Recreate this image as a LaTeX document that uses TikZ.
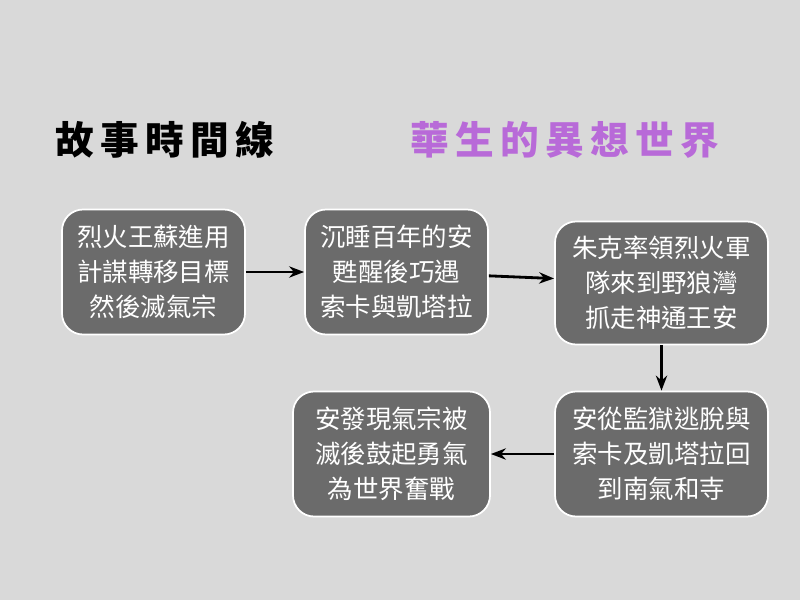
\documentclass[tikz,border=0pt]{standalone}
\usepackage{fontspec}
\setmainfont{Noto Sans CJK TC}
\usetikzlibrary{arrows.meta, positioning}
\usepackage{xcolor}
\definecolor{pagebg}{RGB}{217, 217, 217}
\definecolor{boxfill}{RGB}{107, 107, 107}
\definecolor{titlepurple}{RGB}{184, 106, 216}

\begin{document}
\begin{tikzpicture}[
    event/.style={rectangle, draw=white, line width=1pt, rounded corners=12pt, fill=boxfill, text=white, align=center, font=\fontsize{14.5}{20}\selectfont, inner sep=2pt},
    arrow/.style={-{Stealth[length=3mm]}, line width=1.6pt, color=black},
    heading/.style={font=\fontsize{22}{26}\selectfont\bfseries}
]
\fill[pagebg] (0,0) rectangle (16,12);
\useasboundingbox (0,0) rectangle (16,12);

% Titles
\node[heading] (timeline) at (3.3, 9.2) {故\,事\,時\,間\,線};
\node[heading, text=titlepurple] (world) at (11.3, 9.2) {華\,生\,的\,異\,想\,世\,界};

% Events
\node[event, minimum width=3.66cm, minimum height=2.5cm] (e1) at (3.07, 6.56) {烈火王蘇進用\\計謀轉移目標\\然後滅氣宗};
\node[event, minimum width=3.66cm, minimum height=2.5cm] (e2) at (7.93, 6.56) {沉睡百年的安\\甦醒後巧遇\\索卡與凱塔拉};
\node[event, minimum width=4.26cm, minimum height=2.46cm] (e3) at (13.23, 6.34) {朱克率領烈火軍\\隊來到野狼灣\\抓走神通王安};
\node[event, minimum width=4.26cm, minimum height=2.5cm] (e4) at (13.23, 2.92) {安從監獄逃脫與\\索卡及凱塔拉回\\到南氣和寺};
\node[event, minimum width=3.94cm, minimum height=2.5cm] (e5) at (7.83, 2.92) {安發現氣宗被\\滅後鼓起勇氣\\為世界奮戰};

% Arrows
\draw[arrow] (e1) -- (e2);
\draw[arrow] (e2) -- (e3);
\draw[arrow] (e3) -- (e4);
\draw[arrow] (e4) -- (e5);

\end{tikzpicture}
\end{document}
